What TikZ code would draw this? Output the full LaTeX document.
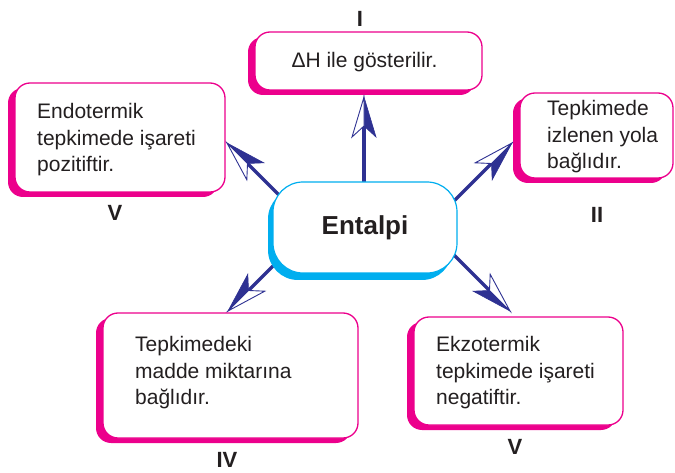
\documentclass[tikz,border=0pt]{standalone}
\usepackage{fontspec}
\setmainfont{Liberation Sans}
\usetikzlibrary{shadows,calc}
\definecolor{mag}{RGB}{236,0,140}
\definecolor{cya}{RGB}{0,174,239}
\definecolor{navy}{RGB}{46,49,146}
\definecolor{ink}{RGB}{35,31,32}
\tikzset{
 pinkbox/.style={draw=mag, line width=1.3pt, fill=white, rounded corners=15pt, inner sep=0pt,
   drop shadow={shadow xshift=-7pt, shadow yshift=-5pt, fill=mag, opacity=1}},
 centerbox/.style={draw=cya, line width=1.2pt, fill=white, rounded corners=30pt, inner sep=0pt,
   drop shadow={shadow xshift=-5pt, shadow yshift=-7pt, fill=cya, opacity=1},
   minimum width=184pt, minimum height=91pt, font=\fontsize{26}{30}\selectfont\bfseries, text=ink},
 boxtext/.style={anchor=west, align=left, inner sep=0pt, text=ink, font=\fontsize{21}{26.5}\selectfont},
 numlabel/.style={inner sep=0pt, text=ink, font=\fontsize{22}{26}\selectfont\bfseries},
 shaft/.style={draw=navy, line width=3.5pt},
 headfull/.style={fill=navy, draw=navy, line width=0.6pt, line join=miter},
 headopen/.style={fill=white, draw=navy, line width=0.9pt, line join=miter},
}
\newcommand\navyarrow[3]{%
  \coordinate (#2-n) at ($(#2)+(#3:29)$);
  \coordinate (#2-w) at ($(#2)+(#3+16.7:41.8)$);
  \coordinate (#2-f) at ($(#2)+(#3-16.7:41.8)$);
  \draw[shaft] (#1) -- (#2-n);
  \path[headfull] (#2) -- (#2-f) -- (#2-n) -- cycle;
  \path[headopen] (#2) -- (#2-w) -- (#2-n) -- cycle;
}
\begin{document}
\begin{tikzpicture}[x=1pt, y=-1pt]
\useasboundingbox (0,0) rectangle (675,473);
% arrows (drawn first, hidden inside the centre box)
\coordinate (tip1) at (364,97);
\coordinate (s1) at (364,215);
\coordinate (tip2) at (227,143);
\coordinate (s2) at ($(tip2)+(45:100)$);
\coordinate (tip3) at (512,143);
\coordinate (s3) at ($(tip3)+(135:100)$);
\coordinate (tip4) at (228,311);
\coordinate (s4) at ($(tip4)+(315:100)$);
\coordinate (tip5) at (510,311);
\coordinate (s5) at ($(tip5)+(225:100)$);
\navyarrow{s1}{tip1}{90}
\navyarrow{s2}{tip2}{45}
\navyarrow{s3}{tip3}{135}
\navyarrow{s4}{tip4}{315}
\navyarrow{s5}{tip5}{225}
% centre
\node[centerbox] (c) at (365,227.5) {Entalpi};
% boxes
\node[pinkbox, minimum width=227pt, minimum height=58pt] (b1) at (368.5,61) {};
\node[boxtext, anchor=center] (t1) at (364.5,62) {ΔH ile gösterilir.};
\node[pinkbox, minimum width=210pt, minimum height=109pt] (b2) at (120,137.5) {};
\node[boxtext] (t2) at (37,140) {Endotermik\\tepkimede işareti\\pozitiftir.};
\node[pinkbox, minimum width=153pt, minimum height=85pt] (b3) at (596.5,135.5) {};
\node[boxtext] (t3) at (547,137) {Tepkimede\\izlenen yola\\bağlıdır.};
\node[pinkbox, minimum width=255pt, minimum height=125pt] (b4) at (230.5,375.5) {};
\node[boxtext] (t4) at (135,373) {Tepkimedeki\\madde miktarına\\bağlıdır.};
\node[pinkbox, minimum width=209pt, minimum height=108pt] (b5) at (518.5,371) {};
\node[boxtext] (t5) at (436,373) {Ekzotermik\\tepkimede işareti\\negatiftir.};
% labels
\node[numlabel] (l1) at (360,18.5) {I};
\node[numlabel] (l2) at (115,213) {V};
\node[numlabel] (l3) at (597,215) {II};
\node[numlabel] (l4) at (227,460) {IV};
\node[numlabel] (l5) at (515,447) {V};
\end{tikzpicture}
\end{document}
